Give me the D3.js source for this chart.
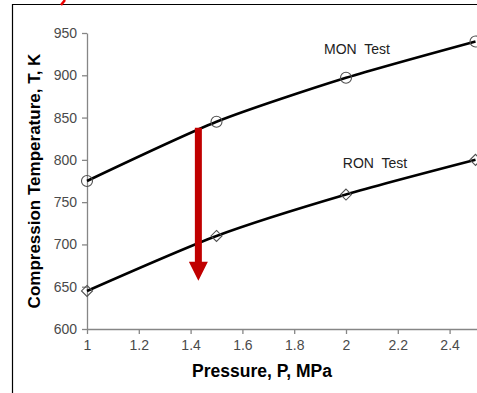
<!DOCTYPE html>
<html>
<head>
<meta charset="utf-8">
<script src="https://cdn.jsdelivr.net/npm/d3@7"></script>
<style>
  body { margin: 0; background: #fff; }
  svg { display: block; font-family: "Liberation Sans", Arial, sans-serif; }
</style>
</head>
<body>
<div id="chart"></div>
<script>
// pressure, MPa
const pressures = [1, 1.5, 2, 2.5];
// compression temperature, K
const monTemps = [775, 845, 897, 940];
const ronTemps = [645, 710, 759, 800];
const xTicks = [1, 1.2, 1.4, 1.6, 1.8, 2, 2.2, 2.4];
const yTicks = [600, 650, 700, 750, 800, 850, 900, 950];
// red arrow: pressure, top temp, tip temp
const arrowP = 1.43, arrowFrom = 838, arrowTo = 657;

const width = 477, height = 393;
const svg = d3.select("#chart").append("svg")
  .attr("width", width)
  .attr("height", height);

// outer frame (clipped at right and bottom)
svg.append("path")
  .attr("d", "M12.5,393 V4.5 H477")
  .attr("fill", "none")
  .attr("stroke", "#000")
  .attr("stroke-width", 1.2);

// stray red mark above frame
svg.append("line")
  .attr("x1", 61).attr("y1", 5)
  .attr("x2", 65).attr("y2", 0)
  .attr("stroke", "#e00")
  .attr("stroke-width", 2.5);

const x = d3.scaleLinear().domain([1, 2.5]).range([87, 475.5]);
const y = d3.scaleLinear().domain([600, 950]).range([329, 33]);

const xAxis = svg.append("g")
  .attr("transform", `translate(0,${y(600)})`)
  .call(d3.axisBottom(x).tickValues(xTicks).tickSize(5).tickPadding(6).tickSizeOuter(0)
    .tickFormat(d3.format("")));
const yAxis = svg.append("g")
  .attr("transform", `translate(${x(1)},0)`)
  .call(d3.axisLeft(y).tickValues(yTicks).tickSize(5).tickPadding(5).tickSizeOuter(0));

[xAxis, yAxis].forEach(a => {
  a.select(".domain").attr("stroke", "#868686").attr("stroke-width", 1.3);
  a.selectAll(".tick line").attr("stroke", "#868686").attr("stroke-width", 1.3);
  a.selectAll(".tick text")
    .attr("fill", "#4a4a4a")
    .style("font-size", "14px")
    .style("font-family", "'Liberation Sans', Arial, sans-serif");
});
xAxis.select(".domain").attr("d", `M${x(1)},0.5H${width}`);

// lines
const line = d3.line()
  .x(d => x(d[0]))
  .y(d => y(d[1]))
  .curve(d3.curveCardinal.tension(0.3));

const monData = pressures.map((p, i) => [p, monTemps[i]]);
const ronData = pressures.map((p, i) => [p, ronTemps[i]]);

[monData, ronData].forEach(data => {
  svg.append("path")
    .datum(data)
    .attr("d", line)
    .attr("fill", "none")
    .attr("stroke", "#000")
    .attr("stroke-width", 2.6);
});

// markers
svg.selectAll(".mon-mark")
  .data(monData)
  .enter().append("circle")
  .attr("cx", d => x(d[0]))
  .attr("cy", d => y(d[1]))
  .attr("r", 5.5)
  .attr("fill", "none")
  .attr("stroke", "#505050")
  .attr("stroke-width", 1.1);

svg.selectAll(".ron-mark")
  .data(ronData)
  .enter().append("path")
  .attr("transform", d => `translate(${x(d[0])},${y(d[1])})`)
  .attr("d", "M0,-5.5L5.5,0L0,5.5L-5.5,0Z")
  .attr("fill", "none")
  .attr("stroke", "#505050")
  .attr("stroke-width", 1.1);

// series labels
svg.append("text")
  .attr("x", 357).attr("y", 54)
  .attr("text-anchor", "middle")
  .attr("fill", "#222")
  .style("font-size", "14px")
  .style("white-space", "pre")
  .text("MON  Test");
svg.append("text")
  .attr("x", 375).attr("y", 168)
  .attr("text-anchor", "middle")
  .attr("fill", "#222")
  .style("font-size", "14px")
  .style("white-space", "pre")
  .text("RON  Test");

// red arrow
const ax = x(arrowP), ay0 = y(arrowFrom), ay1 = y(arrowTo);
const headLen = 19, headHalf = 9.5, shaftHalf = 3.5;
svg.append("path")
  .attr("d", `M${ax - shaftHalf},${ay0} H${ax + shaftHalf} V${ay1 - headLen} H${ax + headHalf} L${ax},${ay1} L${ax - headHalf},${ay1 - headLen} H${ax - shaftHalf} Z`)
  .attr("fill", "#c00000");

// axis titles
svg.append("text")
  .attr("transform", `translate(40,${(y(600) + y(950)) / 2}) rotate(-90)`)
  .attr("text-anchor", "middle")
  .attr("fill", "#000")
  .style("font-size", "17px")
  .style("font-weight", "bold")
  .text("Compression Temperature, T, K");
svg.append("text")
  .attr("x", 262).attr("y", 377)
  .attr("text-anchor", "middle")
  .attr("fill", "#000")
  .style("font-size", "17.5px")
  .style("font-weight", "bold")
  .text("Pressure, P, MPa");
</script>
</body>
</html>
